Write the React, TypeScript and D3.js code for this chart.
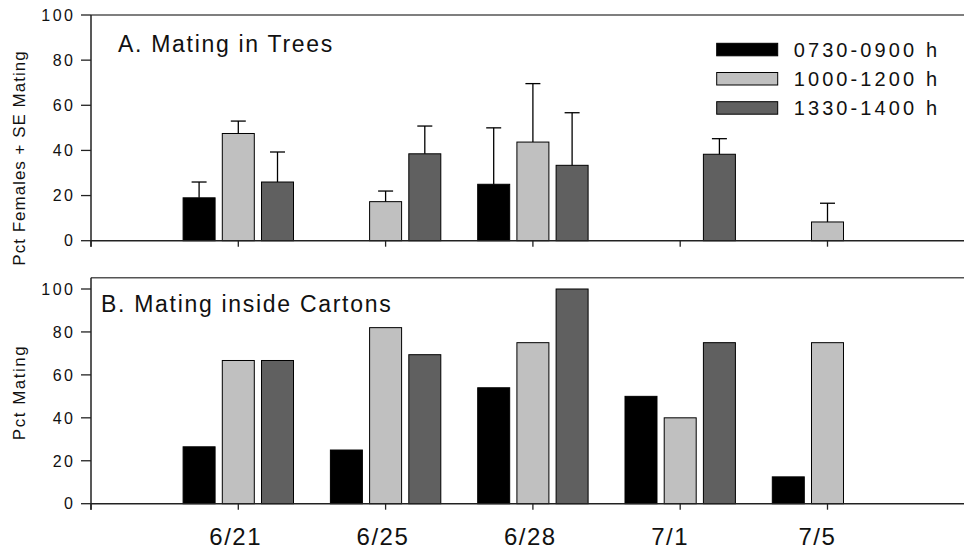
import React from "react";
import * as d3 from "d3";

const categories = ["6/21", "6/25", "6/28", "7/1", "7/5"];
const seriesNames = ["0730-0900 h", "1000-1200 h", "1330-1400 h"];
const seriesColors = ["#000000", "#c0c0c0", "#606060"];

// Panel A: mean pct mating in trees and SE
const treesEarly: (number | null)[] = [19, null, 25, null, null];
const treesMid: (number | null)[] = [47.5, 17.3, 43.7, null, 8.3];
const treesLate: (number | null)[] = [26, 38.5, 33.4, 38.3, null];
const seEarly: (number | null)[] = [7, null, 25, null, null];
const seMid: (number | null)[] = [5.5, 4.7, 25.9, null, 8.3];
const seLate: (number | null)[] = [13.3, 12.3, 23.3, 6.9, null];

// Panel B: pct mating inside cartons
const cartonEarly: (number | null)[] = [26.5, 25, 54, 50, 12.5];
const cartonMid: (number | null)[] = [66.7, 82, 75, 40, 75];
const cartonLate: (number | null)[] = [66.7, 69.4, 100, 75, null];

const yTicks = [0, 20, 40, 60, 80, 100];

const FONT = "'Liberation Sans', Arial, Helvetica, sans-serif";

const W = 964;
const H = 554;
const left = 91;
const step = 147.3;

const x = d3.scaleLinear().domain([0, 6]).range([left, left + 6 * step]);
const inner = d3
  .scaleBand<number>()
  .domain([0, 1, 2])
  .range([-55.2, 55.2])
  .paddingInner(0.184)
  .paddingOuter(0);

type PanelProps = {
  top: number;
  bottom: number;
  hundredY: number;
  values: (number | null)[][];
  errors?: (number | null)[][];
  title: string;
  titleX: number;
  titleY: number;
  ylabel: string;
  ylabelCenter: number;
  ylabelSpacing: number;
  showXLabels: boolean;
};

function Panel(p: PanelProps) {
  const y = d3.scaleLinear().domain([0, 100]).range([p.bottom, p.hundredY]);
  const right = W + 20;
  return (
    <g>
      <line x1={left} x2={right} y1={p.top} y2={p.top} stroke="#555" strokeWidth={1.5} />
      {p.values.map((vals, si) =>
        vals.map((v, ci) => {
          if (v == null) return null;
          const cx = x(ci + 1);
          const bx = cx + (inner(si) as number);
          const bw = inner.bandwidth();
          return (
            <rect
              key={`b${si}-${ci}`}
              x={bx}
              y={y(v)}
              width={bw}
              height={y(0) - y(v)}
              fill={seriesColors[si]}
              stroke="#000"
              strokeWidth={1}
            />
          );
        })
      )}
      {p.errors &&
        p.errors.map((errs, si) =>
          errs.map((e, ci) => {
            const v = p.values[si][ci];
            if (v == null || e == null) return null;
            const cx = x(ci + 1) + (inner(si) as number) + inner.bandwidth() / 2;
            return (
              <g key={`e${si}-${ci}`} stroke="#000" strokeWidth={1.3}>
                <line x1={cx} x2={cx} y1={y(v)} y2={y(v + e)} />
                <line x1={cx - 7.5} x2={cx + 7.5} y1={y(v + e)} y2={y(v + e)} />
              </g>
            );
          })
        )}
      <line x1={left} x2={left} y1={p.top} y2={p.bottom + 6} stroke="#222" strokeWidth={1.5} />
      <line x1={left} x2={right} y1={p.bottom} y2={p.bottom} stroke="#222" strokeWidth={1.5} />
      {yTicks.map((t) => (
        <g key={`yt${t}`}>
          <line x1={left - 10} x2={left} y1={y(t)} y2={y(t)} stroke="#222" strokeWidth={1.3} />
          <text
            x={75.5}
            y={y(t)}
            dy="0.36em"
            textAnchor="end"
            fontSize={16}
            letterSpacing={2.5}
            fontFamily={FONT}
            fill="#111"
          >
            {t}
          </text>
        </g>
      ))}
      {[0, 1, 2, 3, 4, 5, 6].map((k) => (
        <line
          key={`xt${k}`}
          x1={x(k)}
          x2={x(k)}
          y1={p.bottom}
          y2={p.bottom + 6}
          stroke="#222"
          strokeWidth={1.3}
        />
      ))}
      {p.showXLabels &&
        categories.map((c, i) => (
          <text
            key={`xl${c}`}
            x={x(i + 1) - 29}
            y={545}
            fontSize={24}
            letterSpacing={1.5}
            fontFamily={FONT}
            fill="#111"
          >
            {c}
          </text>
        ))}
      <text
        x={p.titleX}
        y={p.titleY}
        fontSize={23}
        letterSpacing={1.7}
        fontFamily={FONT}
        fill="#111"
      >
        {p.title}
      </text>
      <text
        transform={`translate(25,${p.ylabelCenter}) rotate(-90)`}
        textAnchor="middle"
        fontSize={17}
        letterSpacing={p.ylabelSpacing}
        fontFamily={FONT}
        fill="#111"
      >
        {p.ylabel}
      </text>
    </g>
  );
}

export default function App() {
  return (
    <svg
      width={W}
      height={H}
      viewBox={`0 0 ${W} ${H}`}
      style={{ position: "absolute", left: 0, top: 0, background: "#fff" }}
    >
      <rect x={0} y={0} width={W} height={H} fill="#fff" />
      <Panel
        top={15}
        bottom={240.7}
        hundredY={15}
        values={[treesEarly, treesMid, treesLate]}
        errors={[seEarly, seMid, seLate]}
        title="A. Mating in Trees"
        titleX={118}
        titleY={52}
        ylabel="Pct Females + SE Mating"
        ylabelCenter={158}
        ylabelSpacing={1}
        showXLabels={false}
      />
      <Panel
        top={277.7}
        bottom={503.7}
        hundredY={289}
        values={[cartonEarly, cartonMid, cartonLate]}
        title="B. Mating inside Cartons"
        titleX={101}
        titleY={311.7}
        ylabel="Pct Mating"
        ylabelCenter={392.5}
        ylabelSpacing={1.5}
        showXLabels={true}
      />
      {seriesNames.map((s, i) => (
        <g key={`lg${s}`} transform={`translate(716.7,${43.3 + i * 29.2})`}>
          <rect x={0} y={0} width={61} height={12.5} fill={seriesColors[i]} stroke="#000" strokeWidth={1} />
          <text
            x={77}
            y={13.6}
            fontSize={20}
            letterSpacing={3.1}
            fontFamily={FONT}
            fill="#111"
          >
            {s}
          </text>
        </g>
      ))}
    </svg>
  );
}
